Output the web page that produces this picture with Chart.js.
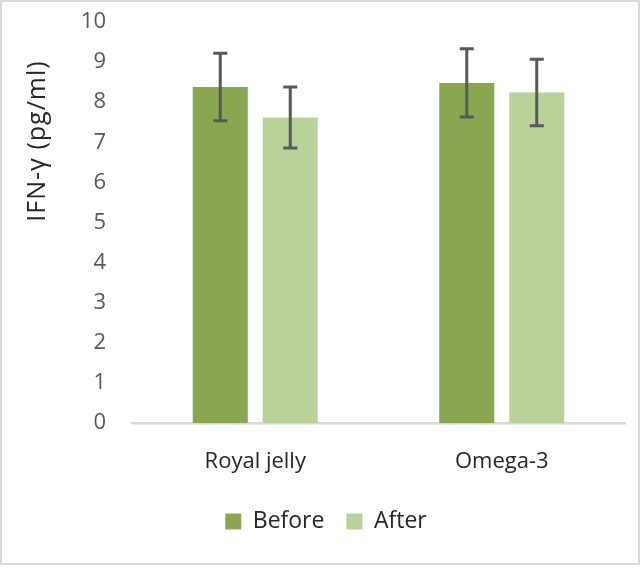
<!DOCTYPE html>
<html>
<head>
<meta charset="utf-8">
<script src="https://cdn.jsdelivr.net/npm/chart.js@4"></script>
<style>
  html, body { margin: 0; padding: 0; background: #fff; }
  #wrap {
    position: absolute; left: 0; top: 0;
    width: 640px; height: 565px;
    box-sizing: border-box;
    border: 2px solid #d9d9d9;
    background: #fff;
  }
  #chart { display: block; }
</style>
</head>
<body>
<div id="wrap"><canvas id="chart" width="636" height="561"></canvas></div>
<script>
const categories = ['Royal jelly', 'Omega-3'];
const beforeValues = [8.38, 8.48];
const afterValues = [7.62, 8.24];
const beforeErrors = [0.84, 0.85];
const afterErrors = [0.76, 0.83];
const seriesNames = ['Before', 'After'];
const yTitle = 'IFN-γ (pg/ml)';

const errors = [beforeErrors, afterErrors];
const FONT = "'Open Sans', sans-serif";

// error bars drawn over the bars
const errorBars = {
  id: 'errorBars',
  afterDatasetsDraw(chart) {
    const ctx = chart.ctx;
    const y = chart.scales.y;
    ctx.save();
    ctx.strokeStyle = '#595959';
    ctx.lineWidth = 3;
    chart.data.datasets.forEach((ds, i) => {
      const meta = chart.getDatasetMeta(i);
      meta.data.forEach((bar, j) => {
        const v = ds.data[j];
        const e = errors[i][j];
        const top = y.getPixelForValue(v + e);
        const bot = y.getPixelForValue(v - e);
        const half = 7;
        ctx.beginPath();
        ctx.moveTo(bar.x, top);
        ctx.lineTo(bar.x, bot);
        ctx.moveTo(bar.x - half, top);
        ctx.lineTo(bar.x + half, top);
        ctx.moveTo(bar.x - half, bot);
        ctx.lineTo(bar.x + half, bot);
        ctx.stroke();
      });
    });
    ctx.restore();
  }
};

// rotated y axis title, placed like the original
const yAxisTitle = {
  id: 'yAxisTitle',
  afterDraw(chart) {
    const ctx = chart.ctx;
    ctx.save();
    ctx.translate(36, 139);
    ctx.rotate(-Math.PI / 2);
    ctx.font = '25px ' + FONT;
    ctx.letterSpacing = '1px';
    ctx.fillStyle = '#262626';
    ctx.textAlign = 'center';
    ctx.textBaseline = 'middle';
    ctx.fillText(yTitle, 0, 0);
    ctx.restore();
  }
};

new Chart(document.getElementById('chart'), {
  type: 'bar',
  data: {
    labels: categories,
    datasets: [
      { label: seriesNames[0], data: beforeValues, backgroundColor: '#8aa650' },
      { label: seriesNames[1], data: afterValues, backgroundColor: '#bbd19a' }
    ]
  },
  options: {
    responsive: false,
    animation: false,
    categoryPercentage: 0.568,
    barPercentage: 0.786,
    layout: { padding: { top: 20, right: 13, bottom: 20, left: 25 } },
    scales: {
      x: {
        grid: { display: false },
        border: { display: true, color: '#d9d9d9', width: 2.5 },
        ticks: { color: '#262626', font: { family: FONT, size: 22 }, padding: 18 },
        afterFit(scale) { scale.height = 65; }
      },
      y: {
        min: 0,
        max: 10,
        grid: { display: false, drawTicks: false },
        border: { display: false },
        ticks: { stepSize: 1, color: '#595959', font: { family: FONT, size: 22 }, padding: 26 },
        afterFit(scale) {
          scale.width = 105;
          // tick padding otherwise pushes the plot top down
          scale.paddingTop = 0;
          scale.paddingBottom = 0;
        }
      }
    },
    plugins: {
      legend: {
        position: 'bottom',
        labels: {
          color: '#262626',
          font: { family: FONT, size: 23 },
          boxWidth: 16,
          boxHeight: 16,
          padding: 22
        }
      },
      tooltip: { enabled: false }
    }
  },
  plugins: [errorBars, yAxisTitle]
});
</script>
</body>
</html>
